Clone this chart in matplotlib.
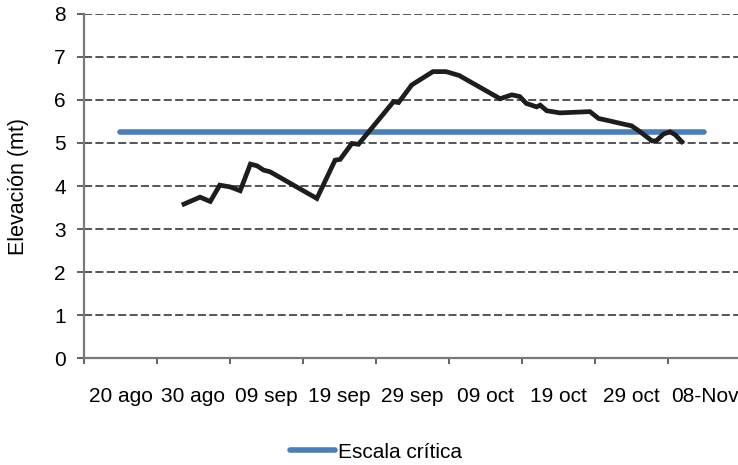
import matplotlib
matplotlib.use("Agg")
import matplotlib.pyplot as plt

# dias contados desde el 15 ago (borde izquierdo del eje)
dias = [13.7, 15.9, 17.3, 18.6, 20.0, 21.4, 22.8, 23.7, 24.6, 25.5,
        31.9, 34.4, 35.1, 36.7, 37.6, 42.4, 43.1, 44.9, 47.8, 49.6,
        51.4, 57.0, 58.6, 59.7, 60.6, 62.0, 62.5, 63.4, 65.2, 69.3,
        70.5, 71.6, 73.9, 75.0, 76.2, 77.8, 78.4, 79.4, 80.3, 81.0, 81.9]
elevacion = [3.58, 3.74, 3.64, 4.02, 3.98, 3.89, 4.51, 4.47, 4.37, 4.33,
             3.71, 4.60, 4.62, 4.99, 4.97, 5.96, 5.94, 6.35, 6.66, 6.66,
             6.57, 6.03, 6.12, 6.08, 5.92, 5.84, 5.88, 5.75, 5.70, 5.73,
             5.57, 5.53, 5.44, 5.40, 5.26, 5.05, 5.05, 5.21, 5.26, 5.19, 5.03]

escala_dias = [5, 85]
escala_critica = [5.25, 5.25]

etiquetas = ['20 ago', '30 ago', '09 sep', '19 sep', '29 sep',
             '09 oct', '19 oct', '29 oct', '08-Nov']

plt.rcParams['font.family'] = ['Liberation Sans', 'DejaVu Sans']
plt.rcParams['lines.scale_dashes'] = False

fig = plt.figure(figsize=(7.38, 4.65), dpi=100)
ax = fig.add_axes([0.1138, 0.2301, 0.8902, 0.7398])

ax.plot(escala_dias, escala_critica, color='#4a7ebb', linewidth=4.0,
        solid_capstyle='round', label='Escala crítica', zorder=3)
ax.plot(dias, elevacion, color='#1e1c1c', linewidth=3.4,
        solid_joinstyle='miter', zorder=4)

ax.set_xlim(0, 90)
ax.set_ylim(0, 8)
ax.set_yticks(range(0, 9))
ax.set_xticks(range(0, 91, 10))
ax.set_xticklabels([])
ax.set_xticks([5 + 10 * i for i in range(len(etiquetas))], minor=True)
ax.set_xticklabels(etiquetas, minor=True)

ax.yaxis.grid(True, color='#555555', linewidth=1.4, linestyle=(0, (5.8, 2.4)))
ax.set_axisbelow(True)

for s in ['top', 'right']:
    ax.spines[s].set_visible(False)
for s in ['left', 'bottom']:
    ax.spines[s].set_color('#7a7a7a')
    ax.spines[s].set_linewidth(1.6)

ax.tick_params(axis='y', direction='out', length=5, width=1.3, color='#555555',
               labelsize=15, pad=8)
ax.tick_params(axis='x', which='major', direction='out', length=4.5, width=1.3,
               color='#555555')
ax.tick_params(axis='x', which='minor', length=0, labelsize=15, pad=21)

ax.set_ylabel('Elevación (mt)', fontsize=15.5)
ax.yaxis.set_label_coords(-0.083, 0.5)

fig.legend(loc='center', bbox_to_anchor=(376 / 738, 1 - 452 / 465),
           frameon=False, fontsize=15, handlelength=2.2, handletextpad=0.15)

fig.savefig('out.png', dpi=100)
